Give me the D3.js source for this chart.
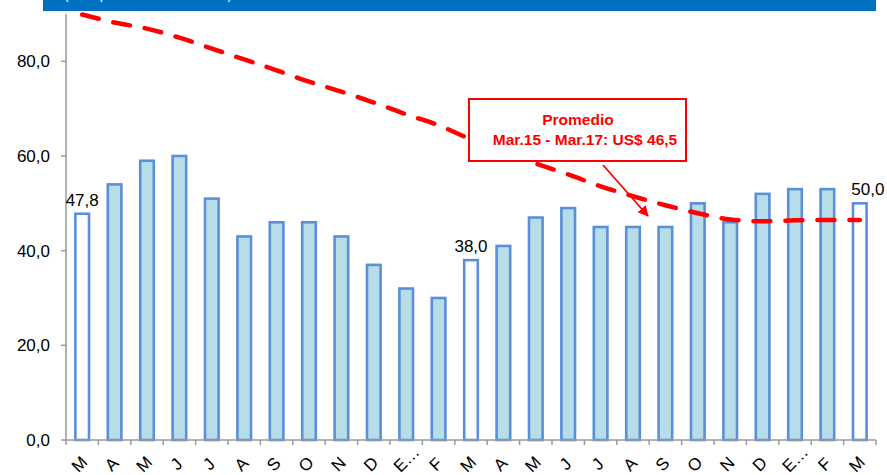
<!DOCTYPE html>
<html>
<head>
<meta charset="utf-8">
<script src="https://cdn.jsdelivr.net/npm/d3@7"></script>
<style>
  body { margin: 0; background: #fff; }
  svg { display: block; font-family: Arial, "Liberation Sans", sans-serif; }
</style>
</head>
<body>
<svg id="chart" width="887" height="475"></svg>
<script>
// months Mar.15 - Mar.17
var months = ["M","A","M","J","J","A","S","O","N","D","E\u2026","F","M","A","M","J","J","A","S","O","N","D","E\u2026","F","M"];
var prices = [47.8,54,59,60,51,43,46,46,43,37,32,30,38,41,47,49,45,45,45,50,46,52,53,53,50];
// trend line (dashed red)
var trend = [89.9,88.2,86.9,85.0,82.7,80.4,78.1,75.7,73.6,71.3,68.8,66.5,63.5,60.8,58.4,56.1,53.6,51.5,49.6,47.9,46.6,46.2,46.4,46.5,46.5];
var highlighted = [0, 12, 24];
var yTicks = [0, 20, 40, 60, 80];
var labelled = [0, 12, 24];

var svg = d3.select("#chart");
var fmt = function(v){ return d3.format(".1f")(v).replace(".", ","); };

var x = d3.scaleBand().domain(d3.range(months.length)).range([66, 876]).paddingInner(0.58).paddingOuter(0.29);
var y = d3.scaleLinear().domain([0, 90]).range([440, 14]);
var step = x.step();
var cx = function(i){ return x(i) + x.bandwidth() / 2; };

// header bar
svg.append("rect").attr("x", 43).attr("y", 0).attr("width", 833).attr("height", 11).attr("fill", "#0070C0");
svg.append("text").attr("x", 64).attr("y", -1).attr("fill", "#fff").attr("font-size", 14)
  .text("(US$ por tonelada métrica)");

// y axis
svg.append("line").attr("x1", 66).attr("x2", 66).attr("y1", y(90)).attr("y2", y(0))
  .attr("stroke", "#999").attr("stroke-width", 1.5);
svg.selectAll(".ytick").data(yTicks).enter().append("line")
  .attr("x1", 61).attr("x2", 66).attr("y1", function(d){ return y(d); }).attr("y2", function(d){ return y(d); })
  .attr("stroke", "#999").attr("stroke-width", 1.5);
svg.selectAll(".ylab").data(yTicks).enter().append("text")
  .attr("x", 50).attr("y", function(d){ return y(d); }).attr("dy", "0.36em")
  .attr("text-anchor", "end").attr("font-size", 17).attr("fill", "#000")
  .text(fmt);

// bars
svg.selectAll(".bar").data(prices).enter().append("rect")
  .attr("x", function(d, i){ return x(i); })
  .attr("y", function(d){ return y(d); })
  .attr("width", x.bandwidth())
  .attr("height", function(d){ return y(0) - y(d); })
  .attr("fill", function(d, i){ return highlighted.indexOf(i) >= 0 ? "#fff" : "#B7DDE8"; })
  .attr("stroke", "#5B8FD9").attr("stroke-width", 2.6);

// x axis
svg.append("line").attr("x1", 66).attr("x2", 876).attr("y1", y(0)).attr("y2", y(0))
  .attr("stroke", "#999").attr("stroke-width", 1.5);
svg.selectAll(".xtick").data(d3.range(months.length + 1)).enter().append("line")
  .attr("x1", function(i){ return 66 + i * step; }).attr("x2", function(i){ return 66 + i * step; })
  .attr("y1", y(0)).attr("y2", y(0) + 5)
  .attr("stroke", "#999").attr("stroke-width", 1.5);
svg.selectAll(".xlab").data(months).enter().append("text")
  .attr("transform", function(d, i){
    var long = d.length > 1;
    return "translate(" + (cx(i) - (long ? 0 : 3)) + "," + (long ? 459 : 464) + ") rotate(-45)";
  })
  .attr("text-anchor", "middle").attr("dy", "0.35em").attr("font-size", 17).attr("fill", "#000")
  .text(function(d){ return d; });

// data labels
svg.selectAll(".dlab").data(labelled).enter().append("text")
  .attr("x", function(i){ return cx(i) + (i === months.length - 1 ? 8 : 0); })
  .attr("y", function(i){ return y(prices[i]) - 8; })
  .attr("text-anchor", "middle").attr("font-size", 17).attr("fill", "#000")
  .text(function(i){ return fmt(prices[i]); });

// trend line
var line = d3.line()
  .x(function(d, i){ return cx(i); })
  .y(function(d){ return y(d); })
  .curve(d3.curveMonotoneX);
svg.append("path").datum(trend).attr("d", line)
  .attr("fill", "none").attr("stroke", "#FF0000").attr("stroke-width", 4.5)
  .attr("stroke-dasharray", "17,15").attr("stroke-linecap", "round");

// annotation
svg.append("rect").attr("x", 469).attr("y", 99).attr("width", 217).attr("height", 62)
  .attr("fill", "#fff").attr("stroke", "#FF0000").attr("stroke-width", 2);
svg.append("text").attr("x", 578).attr("y", 125).attr("text-anchor", "middle")
  .attr("font-size", 15.5).attr("font-weight", "bold").attr("fill", "#FF0000").text("Promedio");
svg.append("text").attr("x", 585).attr("y", 145).attr("text-anchor", "middle")
  .attr("font-size", 15.5).attr("font-weight", "bold").attr("fill", "#FF0000").text("Mar.15 - Mar.17: US$ 46,5");

svg.append("defs").append("marker").attr("id", "arr")
  .attr("viewBox", "0 0 10 10").attr("refX", 9).attr("refY", 5)
  .attr("markerWidth", 6).attr("markerHeight", 6).attr("orient", "auto")
  .append("path").attr("d", "M0,0 L10,5 L0,10 Z").attr("fill", "#FF0000");
svg.append("line").attr("x1", 603).attr("y1", 165).attr("x2", 648).attr("y2", 216)
  .attr("stroke", "#FF0000").attr("stroke-width", 1.8).attr("marker-end", "url(#arr)");
</script>
</body>
</html>
